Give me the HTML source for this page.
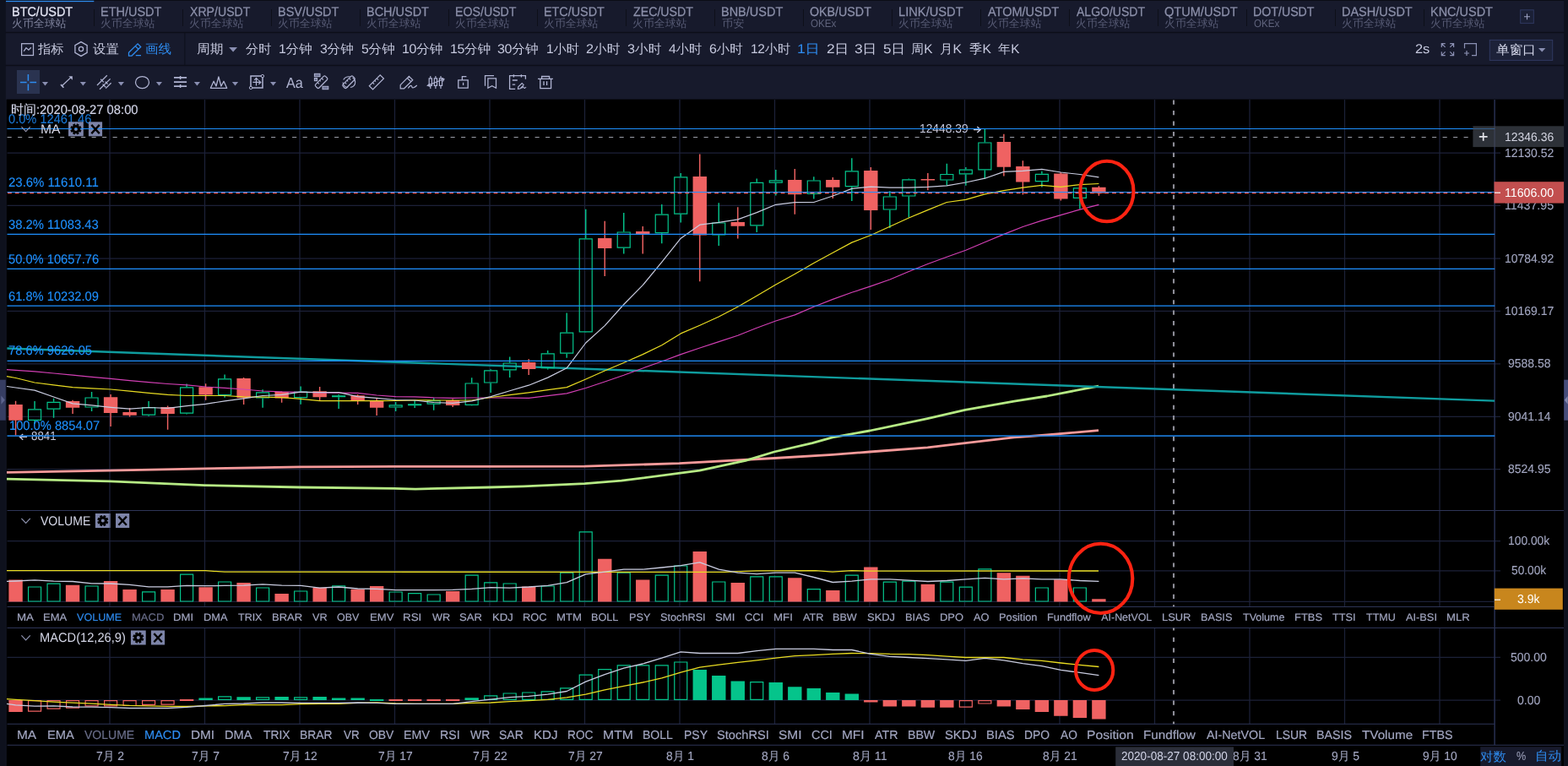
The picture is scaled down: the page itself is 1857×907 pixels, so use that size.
<!DOCTYPE html>
<html lang="zh-CN"><head><meta charset="utf-8"><title>BTC/USDT</title>
<style>
html,body{margin:0;padding:0;background:#171a2c;}
#app{position:relative;width:1857px;height:907px;overflow:hidden;background:#171a2c;font-family:"Liberation Sans","WenQuanYi Zen Hei","Noto Sans CJK SC",sans-serif;}
svg{position:absolute;left:0;top:0;}
.t{position:absolute;white-space:pre;line-height:1;transform-origin:0 0;text-rendering:geometricPrecision;}
</style></head><body>
<div id="app">
<svg width="1857" height="907" viewBox="0 0 1857 907">
<rect x="0" y="0" width="1857" height="907" fill="#171a2c"/>
<rect x="0" y="0" width="1857" height="1" fill="#0b0d16"/>
<rect x="7" y="0.85" width="104.3" height="1.3" fill="#2e8cf0"/>
<rect x="0" y="37.8" width="1857" height="1.4" fill="#0c0e18"/>
<rect x="0" y="76.8" width="1857" height="1.4" fill="#0c0e18"/>
<rect x="111" y="11" width="1" height="20" fill="#0d0f19"/>
<rect x="216" y="11" width="1" height="20" fill="#0d0f19"/>
<rect x="321" y="11" width="1" height="20" fill="#0d0f19"/>
<rect x="426" y="11" width="1" height="20" fill="#0d0f19"/>
<rect x="531" y="11" width="1" height="20" fill="#0d0f19"/>
<rect x="636" y="11" width="1" height="20" fill="#0d0f19"/>
<rect x="741" y="11" width="1" height="20" fill="#0d0f19"/>
<rect x="846" y="11" width="1" height="20" fill="#0d0f19"/>
<rect x="951" y="11" width="1" height="20" fill="#0d0f19"/>
<rect x="1056" y="11" width="1" height="20" fill="#0d0f19"/>
<rect x="1161" y="11" width="1" height="20" fill="#0d0f19"/>
<rect x="1266" y="11" width="1" height="20" fill="#0d0f19"/>
<rect x="1371" y="11" width="1" height="20" fill="#0d0f19"/>
<rect x="1476" y="11" width="1" height="20" fill="#0d0f19"/>
<rect x="1581" y="11" width="1" height="20" fill="#0d0f19"/>
<rect x="1686" y="11" width="1" height="20" fill="#0d0f19"/>
<rect x="218.4" y="39" width="1" height="38" fill="#0d0f19"/>
<rect x="7.6" y="117.6" width="1844.4" height="789.4" fill="#000"/>
<rect x="0" y="0" width="6.8" height="907" fill="#0e111d"/>
<rect x="1852.2" y="0" width="5" height="907" fill="#0e111d"/>
<rect x="0" y="449.7" width="6.8" height="48" fill="#363d62"/>
<path d="M1.4 468.6 L5.8 473.7 L1.4 478.8Z" fill="#5d648e"/>
<rect x="1852.2" y="449.7" width="5" height="48" fill="#454c7a"/>
<path d="M1856.6 469 L1852.8 473.7 L1856.6 478.4Z" fill="#8389b0"/>
<rect x="20" y="83" width="27" height="28" fill="#2a3350"/>
<path d="M130 118V718.4M130 743.5V857.2M242.5 118V718.4M242.5 743.5V857.2M355 118V718.4M355 743.5V857.2M467.5 118V718.4M467.5 743.5V857.2M580 118V718.4M580 743.5V857.2M692.5 118V718.4M692.5 743.5V857.2M805 118V718.4M805 743.5V857.2M917.5 118V718.4M917.5 743.5V857.2M1030 118V718.4M1030 743.5V857.2M1142.5 118V718.4M1142.5 743.5V857.2M1255 118V718.4M1255 743.5V857.2M1367.5 118V718.4M1367.5 743.5V857.2M1480 118V718.4M1480 743.5V857.2M1592.5 118V718.4M1592.5 743.5V857.2M1705 118V718.4M1705 743.5V857.2M8.5 181.1H1777M8.5 243.4H1777M8.5 306H1777M8.5 368.3H1777M8.5 430.8H1777M8.5 493.3H1777M8.5 555.6H1777M8.5 640.7H1777M8.5 675.9H1777M8.5 712.3H1777M8.5 778.4H1777M8.5 829.1H1777" stroke="#1c2138" stroke-width="1.25" fill="none"/>
<path d="M8.5 604.5H1852M8.5 718.5H1770.2 M8.5 743.5H1852M8.5 857.3H1770.2 M8.5 882.3H1852" stroke="#2e3557" stroke-width="1.1" fill="none"/>
<path d="M1770.1 118V882.3" stroke="#283052" stroke-width="1.5" fill="none"/>
<path d="M10.35 686.6H26.75V712.6H10.35ZM77.87 692.8H94.27V712.6H77.87ZM122.88 688.1H139.28V712.6H122.88ZM145.39 698.1H161.79V712.6H145.39ZM190.4 698.1H206.8V712.6H190.4ZM235.41 695.2H251.81V712.6H235.41ZM280.42 690.1H296.82V712.6H280.42ZM325.43 703.1H341.83V712.6H325.43ZM370.45 695.7H386.85V712.6H370.45ZM415.46 697.8H431.86V712.6H415.46ZM437.96 694.1H454.36V712.6H437.96ZM527.99 700H544.39V712.6H527.99ZM618.01 694.4H634.41V712.6H618.01ZM708.04 661.7H724.44V712.6H708.04ZM753.05 686.6H769.45V712.6H753.05ZM820.57 653.1H836.97V712.6H820.57ZM865.58 690.1H881.98V712.6H865.58ZM933.1 684.2H949.5V712.6H933.1ZM978.11 699.1H994.51V712.6H978.11ZM1023.12 671.6H1039.52V712.6H1023.12ZM1090.64 691.7H1107.04V712.6H1090.64ZM1180.66 678.2H1197.06V712.6H1180.66ZM1203.17 681.8H1219.57V712.6H1203.17ZM1248.18 686.2H1264.58V712.6H1248.18ZM1293.19 709.3H1309.59V712.6H1293.19Z" fill="#ef6262"/>
<path d="M33.56 695H48.56V712H33.56ZM56.06 691.1H71.06V712H56.06ZM101.07 694H116.07V712H101.07ZM168.59 700.9H183.59V712H168.59ZM213.6 680.1H228.6V712H213.6ZM258.62 689H273.62V712H258.62ZM303.63 696H318.63V712H303.63ZM348.64 700H363.64V712H348.64ZM393.65 693.8H408.65V712H393.65ZM461.17 701H476.17V712H461.17ZM483.68 702.6H498.68V712H483.68ZM506.18 704H521.18V712H506.18ZM551.19 681.1H566.19V712H551.19ZM573.7 689.8H588.7V712H573.7ZM596.21 691H611.21V712H596.21ZM641.22 694H656.22V712H641.22ZM663.72 678.2H678.72V712H663.72ZM686.23 629.9H701.23V712H686.23ZM731.24 678.2H746.24V712H731.24ZM776.25 681.1H791.25V712H776.25ZM798.76 670H813.76V712H798.76ZM843.77 689H858.77V712H843.77ZM888.78 682.8H903.78V712H888.78ZM911.29 682.8H926.29V712H911.29ZM956.3 697.6H971.3V712H956.3ZM1001.31 681.2H1016.31V712H1001.31ZM1046.33 689.1H1061.33V712H1046.33ZM1068.83 688.1H1083.83V712H1068.83ZM1113.84 689.1H1128.84V712H1113.84ZM1136.35 695.1H1151.35V712H1136.35ZM1158.86 673.9H1173.86V712H1158.86ZM1226.37 696H1241.37V712H1226.37ZM1271.39 696H1286.39V712H1271.39Z" fill="none" stroke="#05c48b" stroke-width="1.2"/>
<polyline points="8,675.7 243.5,675.7 266,677.2 858,677.3 896,675.8 966,675.7 986,677.2 1008.5,675.7 1031,676.2 1301,676" fill="none" stroke="#e9dc22" stroke-width="1.3"/>
<polyline points="8,688.4 18.55,688 41.06,686.8 63.56,688.1 86.07,688.5 108.57,690.8 131.08,691 153.59,692.4 176.09,694.8 198.6,694.8 221.1,693.4 243.61,693.7 266.12,693.4 288.62,693.2 311.13,691.8 333.63,693.2 356.14,693.4 378.65,696.1 401.15,695 423.66,697 446.16,697.4 468.67,698.7 491.18,698.7 513.68,698.7 536.19,698.3 558.69,697.4 581.2,695.7 603.71,696.1 626.21,695 648.72,693.4 671.22,689.7 693.73,679.8 716.24,677.2 738.74,674.2 761.25,674.2 783.75,672 806.26,669.6 828.77,665.9 851.27,674.2 873.78,678.2 896.28,679.6 918.79,678.2 941.3,678.2 963.8,683.5 986.31,689.5 1008.81,688.1 1031.32,685.8 1053.83,685.8 1076.33,687.1 1098.84,688.5 1121.34,687.5 1143.85,685.8 1166.36,684.4 1188.86,685.8 1211.37,684.8 1233.87,685.8 1256.38,685.8 1278.89,687.5 1301.39,688.4" fill="none" stroke="#c9cce0" stroke-width="1.3" stroke-linejoin="round"/>
<path d="M235.41 826.6H251.81V829H235.41ZM280.42 825.2H296.82V829H280.42ZM325.43 825H341.83V829H325.43ZM370.45 825H386.85V829H370.45ZM392.95 826.4H409.35V829H392.95ZM415.46 826.6H431.86V829H415.46ZM437.96 828.1H454.36V830H437.96ZM550.49 826.2H566.89V829H550.49ZM820.57 793.1H836.97V829H820.57ZM843.07 800H859.47V829H843.07ZM865.58 806.4H881.98V829H865.58ZM910.59 808H926.99V829H910.59ZM933.1 813.2H949.5V829H933.1ZM955.6 815.1H972V829H955.6ZM978.11 820H994.51V829H978.11ZM1000.61 821.6H1017.01V829H1000.61Z" fill="#05c48b"/>
<path d="M10.35 829H26.75V843H10.35ZM212.9 828.1H229.3V830H212.9ZM460.47 828.1H476.87V830H460.47ZM482.98 828.1H499.38V830H482.98ZM505.48 828.1H521.88V830H505.48ZM527.99 828.1H544.39V830H527.99ZM1023.12 829H1039.52V831.6H1023.12ZM1045.63 829H1062.03V836.4H1045.63ZM1068.13 829H1084.53V836.4H1068.13ZM1090.64 829H1107.04V837.7H1090.64ZM1113.14 829H1129.54V837.7H1113.14ZM1180.66 829H1197.06V836.4H1180.66ZM1203.17 829H1219.57V839.9H1203.17ZM1225.67 829H1242.07V842.9H1225.67ZM1248.18 829H1264.58V847.7H1248.18ZM1270.69 829H1287.09V850H1270.69ZM1293.19 829H1309.59V851.5H1293.19Z" fill="#ef6262"/>
<path d="M258.62 824.8H273.62V828.4H258.62ZM303.63 825.8H318.63V828.4H303.63ZM348.64 825.8H363.64V828.4H348.64ZM573.7 823.8H588.7V828.4H573.7ZM596.21 821H611.21V828.4H596.21ZM618.71 820H633.71V828.4H618.71ZM641.22 818.8H656.22V828.4H641.22ZM663.72 814.9H678.72V828.4H663.72ZM686.23 799.2H701.23V828.4H686.23ZM708.74 792.7H723.74V828.4H708.74ZM731.24 787.9H746.24V828.4H731.24ZM753.75 787.9H768.75V828.4H753.75ZM776.25 787.9H791.25V828.4H776.25ZM798.76 784H813.76V828.4H798.76ZM888.78 807.7H903.78V828.4H888.78Z" fill="none" stroke="#05c48b" stroke-width="1.2"/>
<path d="M33.56 829.6H48.56V842.1H33.56ZM56.06 829.6H71.06V839.2H56.06ZM78.57 829.6H93.57V838.1H78.57ZM101.07 829.6H116.07V835.9H101.07ZM123.58 829.6H138.58V835.9H123.58ZM146.09 829.6H161.09V835.5H146.09ZM168.59 829.6H183.59V834.4H168.59ZM191.1 829.6H206.1V834.2H191.1ZM1136.35 829.6H1151.35V837.1H1136.35ZM1158.86 829.6H1173.86V833H1158.86Z" fill="none" stroke="#ef6262" stroke-width="1.2"/>
<polyline points="8,827.7 18.55,828.3 41.06,829.7 63.56,831.1 86.07,832.1 108.57,833.2 131.08,834.4 153.59,835.4 176.09,835.8 198.6,836.3 221.1,836.5 243.61,835.9 266.12,835.6 288.62,834.6 311.13,834.6 333.63,834.6 356.14,833.6 378.65,833.3 401.15,833.3 423.66,832.3 446.16,832 468.67,832.9 491.18,833.3 513.68,833.3 536.19,833.3 558.69,832.4 581.2,832 603.71,830.7 626.21,829.7 648.72,828.4 671.22,825.8 693.73,822.2 716.24,816.8 738.74,812.3 761.25,808 783.75,802.8 806.26,796.1 828.77,790.2 851.27,787.1 873.78,784.3 896.28,781.9 918.79,779.2 941.3,776.7 963.8,775.7 986.31,774.4 1008.81,773.5 1031.32,773.7 1053.83,774.4 1076.33,774.6 1098.84,775.7 1121.34,777.2 1143.85,778.5 1166.36,778.5 1188.86,778.5 1211.37,780.8 1233.87,782.4 1256.38,785 1278.89,787.3 1301.39,789.5" fill="none" stroke="#e9dc22" stroke-width="1.3" stroke-linejoin="round"/>
<polyline points="8,833.4 18.55,834.8 41.06,836.1 63.56,835.8 86.07,837 108.57,837.1 131.08,837.7 153.59,838.5 176.09,838.5 198.6,838.5 221.1,837.4 243.61,835.5 266.12,833.3 288.62,833 311.13,832 333.63,832 356.14,832.3 378.65,832.3 401.15,832.3 423.66,832 446.16,832.4 468.67,833.3 491.18,833.3 513.68,833.3 536.19,833.3 558.69,830.7 581.2,828.2 603.71,825.6 626.21,824.3 648.72,822.1 671.22,818.5 693.73,807.1 716.24,798.6 738.74,791.2 761.25,786 783.75,779.2 806.26,771.8 828.77,773.5 851.27,773.5 873.78,773.5 896.28,770.6 918.79,768.3 941.3,768.3 963.8,768.3 986.31,769.5 1008.81,769.5 1031.32,774.4 1053.83,777.4 1076.33,778.5 1098.84,779.6 1121.34,780.8 1143.85,782.4 1166.36,779.3 1188.86,781.9 1211.37,785.6 1233.87,788.6 1256.38,793.4 1278.89,796.4 1301.39,799.6" fill="none" stroke="#c9cce0" stroke-width="1.3" stroke-linejoin="round"/>
<polyline points="8,559.3 130,557.2 242,554.8 355,552.8 467,552.4 580,552.4 692.5,552.1 804.5,548.7 917,542.5 986,538.4 1030,535 1098.5,529.9 1143,524.7 1201,517.9 1240,515 1301,509.7" fill="none" stroke="#f79a9a" stroke-width="2.8" stroke-linejoin="round"/>
<polyline points="8,567.1 130,569.9 242,574.6 355,577 467,578.4 492,579.1 580,577 620,575.9 692.5,572.6 736,569.2 828.5,557.2 883,545.3 917,535 962,524.7 986,517.9 1030,510 1098.5,495.7 1143,485.4 1201,475.2 1240,469 1301,457.1" fill="none" stroke="#b6ea84" stroke-width="2.8" stroke-linejoin="round"/>
<path d="M8.4 412.55L1770 474.6" stroke="#0f9c9e" stroke-width="2.45" fill="none"/>
<path d="M18.55 474.8V515.4M86.07 473.8V490M131.08 466.9V504.9M153.59 483V493.6M198.6 480.6V508.8M243.61 454.2V473.8M288.62 447V479M333.63 463.5V476.8M378.65 458V474M423.66 466.9V479M446.16 471.8V492M536.19 472.4V482M626.21 425.3V444M716.24 261.7V327.1M761.25 267.9V300.6M828.77 182.4V333.2M873.78 245.2V282.5M941.3 200V253.8M986.31 210.1V235.1M1031.32 198V272M1098.84 205.1V225.2M1188.86 158.7V208.6M1211.37 190.2V230.6M1256.38 204V237.6M1301.39 220.3V231.8" fill="none" stroke="#ef6262" stroke-width="1.45"/>
<path d="M10.35 479H26.75V497.7H10.35ZM77.87 475.1H94.27V482.8H77.87ZM122.88 470.2H139.28V488.9H122.88ZM145.39 488H161.79V491.7H145.39ZM190.4 482.1H206.8V490H190.4ZM235.41 458.3H251.81V467.6H235.41ZM280.42 448.1H296.82V471.3H280.42ZM325.43 464.1H341.83V471.5H325.43ZM370.45 463.3H386.85V470.2H370.45ZM415.46 468.2H431.86V474H415.46ZM437.96 474.8H454.36V482.8H437.96ZM527.99 474H544.39V480H527.99ZM618.01 429.1H634.41V436.9H618.01ZM708.04 281.9H724.44V294H708.04ZM753.05 274H769.45V277H753.05ZM820.57 209.1H836.97V278.6H820.57ZM865.58 263.1H881.98V267.8H865.58ZM933.1 213H949.5V230.3H933.1ZM978.11 213H994.51V221.8H978.11ZM1023.12 202H1039.52V248.9H1023.12ZM1090.64 212H1107.04V213.6H1090.64ZM1180.66 168.1H1197.06V197.7H1180.66ZM1203.17 197H1219.57V215.5H1203.17ZM1248.18 205.6H1264.58V235.4H1248.18ZM1293.19 221.8H1309.59V228.8H1293.19Z" fill="#ef6262"/>
<path d="M33.56 484.8H48.56V497.4H33.56ZM56.06 476.3H71.06V484.2H56.06ZM101.07 471H116.07V482H101.07ZM168.59 482.6H183.59V491.1H168.59ZM213.6 458.9H228.6V489.2H213.6ZM258.62 448.9H273.62V467.6H258.62ZM303.63 464.9H318.63V470.9H303.63ZM348.64 464.2H363.64V470.7H348.64ZM393.65 468.8H408.65V469.6H393.65ZM461.17 479.9H476.17V482H461.17ZM483.68 478.8H498.68V479.7H483.68ZM506.18 474.6H521.18V478.1H506.18ZM551.19 454H566.19V479.3H551.19ZM573.7 438.8H588.7V453H573.7ZM596.21 430H611.21V437.9H596.21ZM641.22 418.9H656.22V435.7H641.22ZM663.72 394.1H678.72V418.1H663.72ZM686.23 282.8H701.23V392.9H686.23ZM731.24 275H746.24V293.2H731.24ZM776.25 254.1H791.25V275.6H776.25ZM798.76 209.9H813.76V253.1H798.76ZM843.77 264H858.77V277.9H843.77ZM888.78 216.4H903.78V266.9H888.78ZM911.29 213.8H926.29V216.2H911.29ZM956.3 214H971.3V229.4H956.3ZM1001.31 202.9H1016.31V220.7H1001.31ZM1046.33 233H1061.33V248H1046.33ZM1068.83 212.9H1083.83V232H1068.83ZM1113.84 206.5H1128.84V213H1113.84ZM1136.35 201.2H1151.35V205.9H1136.35ZM1158.86 169H1173.86V200.8H1158.86ZM1226.37 206.4H1241.37V214.6H1226.37ZM1271.39 222.8H1286.39V234.4H1271.39Z" fill="none" stroke="#05c48b" stroke-width="1.2"/>
<path d="M41.06 475.1V484.2M41.06 498V502M63.56 471.8V475.7M63.56 484.8V494.8M108.57 463.9V470.4M108.57 482.6V486.9M176.09 475.1V482M176.09 491.7V492.8M221.1 454.4V458.3M221.1 489.8V490.5M266.12 443.5V448.3M266.12 468.2V470.7M311.13 461.3V464.3M311.13 471.5V482.8M356.14 457.5V463.6M356.14 471.3V478.8M401.15 466.9V468.2M401.15 470.2V484M468.67 476V479.3M468.67 482.6V486.9M491.18 474V478.2M491.18 480.3V483M513.68 471.3V474M513.68 478.7V485.8M558.69 447.2V453.4M558.69 479.9V480.2M581.2 437.2V438.2M581.2 453.6V465M603.71 422.5V429.4M603.71 438.5V447M648.72 415.1V418.3M648.72 436.3V437.4M671.22 370.4V393.5M671.22 418.7V423.8M693.73 247.7V282.2M693.73 393.5V393.8M738.74 252.1V274.4M738.74 293.8V300.6M783.75 242V253.5M783.75 276.2V288.2M806.26 205V209.3M806.26 253.7V263.4M851.27 240.2V263.4M851.27 278.5V291M896.28 211.5V215.8M896.28 267.5V275M918.79 201.1V213.2M918.79 216.8V231.4M963.8 209.2V213.4M963.8 230V235.5M1008.81 187.2V202.3M1008.81 221.3V238M1053.83 226.3V232.4M1053.83 248.6V269.9M1076.33 211.4V212.3M1076.33 232.6V257.5M1121.34 193.8V205.9M1121.34 213.6V219.4M1143.85 198V200.6M1143.85 206.5V219.7M1166.36 152.7V168.4M1166.36 201.4V212.1M1233.87 202.8V205.8M1233.87 215.2V221.6M1278.89 221.5V222.2M1278.89 235V247.6" fill="none" stroke="#05c48b" stroke-width="1.45"/>
<polyline points="8,437.6 18.55,438.3 41.06,439.8 63.56,442 86.07,444.2 108.57,446.3 131.08,448.4 153.59,450.6 176.09,452.7 198.6,454.5 221.1,455.8 243.61,458 266.12,459.4 288.62,461 311.13,463 333.63,463.9 356.14,464.3 378.65,464.9 401.15,465.2 423.66,465.4 446.16,468 468.67,469.6 491.18,469.8 513.68,470.9 536.19,471.3 558.69,471 581.2,471 603.71,471.2 626.21,471.3 648.72,468.6 671.22,465.9 693.73,459.5 716.24,452 738.74,444.3 761.25,436 783.75,428 806.26,419.6 828.77,412 851.27,404.6 873.78,397.2 896.28,388.2 918.79,380 941.3,372.9 963.8,363.2 986.31,354.4 1008.81,346.3 1031.32,338.9 1053.83,331 1076.33,321.5 1098.84,312.5 1121.34,304.2 1143.85,296.2 1166.36,286.7 1188.86,277.4 1211.37,268.5 1233.87,261.1 1256.38,254.6 1278.89,248.2 1301.39,242.3" fill="none" stroke="#d23fb4" stroke-width="1.2" stroke-linejoin="round"/>
<polyline points="8,445.6 18.55,447.5 41.06,453 63.56,455.8 86.07,458.6 108.57,459.8 131.08,461 153.59,463.2 176.09,465.4 198.6,467.4 221.1,468.5 243.61,468.5 266.12,468.5 288.62,469.8 311.13,470.2 333.63,470.7 356.14,472.4 378.65,474.6 401.15,474.6 423.66,474.6 446.16,474.6 468.67,474.4 491.18,473.8 513.68,474 536.19,474 558.69,474 581.2,470.5 603.71,467.6 626.21,464.8 648.72,461.7 671.22,458.6 693.73,449 716.24,439 738.74,429.5 761.25,419.6 783.75,408.7 806.26,394.9 828.77,385.2 851.27,375 873.78,363.2 896.28,350.3 918.79,337.1 941.3,324.4 963.8,311.5 986.31,299.3 1008.81,287.1 1031.32,278.5 1053.83,268.2 1076.33,258 1098.84,248.6 1121.34,239.5 1143.85,236.4 1166.36,229.8 1188.86,225.6 1211.37,222.1 1233.87,219.4 1256.38,221.3 1278.89,218.6 1301.39,217.5" fill="none" stroke="#e9dc22" stroke-width="1.2" stroke-linejoin="round"/>
<polyline points="8,457.5 18.55,459 41.06,462.1 63.56,470 86.07,477.9 108.57,479.9 131.08,482.3 153.59,484.2 176.09,482.5 198.6,483.4 221.1,480.6 243.61,478.4 266.12,474.8 288.62,471.8 311.13,468.5 333.63,467.4 356.14,464.1 378.65,464.7 401.15,464.7 423.66,469.6 446.16,471.3 468.67,473.5 491.18,474 513.68,476.5 536.19,477.3 558.69,474.9 581.2,469.6 603.71,462.8 626.21,456.2 648.72,447.1 671.22,435.8 693.73,406 716.24,385.6 738.74,360.5 761.25,337.6 783.75,310.3 806.26,282.2 828.77,266.2 851.27,263.4 873.78,259.9 896.28,251.6 918.79,242.3 941.3,239.6 963.8,239.5 986.31,232 1008.81,223.4 1031.32,221.1 1053.83,222.2 1076.33,222.2 1098.84,221.3 1121.34,219.9 1143.85,216 1166.36,211.2 1188.86,203.4 1211.37,202.3 1233.87,200.4 1256.38,204 1278.89,206.5 1301.39,209.8" fill="none" stroke="#c9cce0" stroke-width="1.2" stroke-linejoin="round"/>
<path d="M1153.0 153.5H1161M1157.3 150.1L1161.1 153.5L1157.3 156.9" stroke="#c6c9de" stroke-width="1.4" fill="none"/>
<path d="M32.1 517.3H23.6M27.2 513.9L23.4 517.3L27.2 520.7" stroke="#c6c9de" stroke-width="1.4" fill="none"/>
</svg>
<div class="lay"><span class="t" style="left:10.33px;top:133.78px;font-size:15.4px;color:#1a78d6;transform:scaleX(0.950);-webkit-text-stroke:0.1px #1a78d6;">0.0% 12461.46</span>
<span class="t" style="left:10.24px;top:209.03px;font-size:15.4px;color:#1e90ff;transform:scaleX(0.972);-webkit-text-stroke:0.12px #1e90ff;">23.6% 11610.11</span>
<span class="t" style="left:10.25px;top:258.83px;font-size:15.4px;color:#1e90ff;transform:scaleX(0.962);-webkit-text-stroke:0.12px #1e90ff;">38.2% 11083.43</span>
<span class="t" style="left:10.1px;top:299.93px;font-size:15.4px;color:#1e90ff;transform:scaleX(0.955);-webkit-text-stroke:0.12px #1e90ff;">50.0% 10657.76</span>
<span class="t" style="left:10.19px;top:343.83px;font-size:15.4px;color:#1e90ff;transform:scaleX(0.954);-webkit-text-stroke:0.12px #1e90ff;">61.8% 10232.09</span>
<span class="t" style="left:10.1px;top:408.18px;font-size:15.4px;color:#1e90ff;transform:scaleX(0.956);-webkit-text-stroke:0.12px #1e90ff;">78.6% 9626.05</span>
<span class="t" style="left:10.63px;top:497.13px;font-size:15.4px;color:#1e90ff;transform:scaleX(0.955);-webkit-text-stroke:0.12px #1e90ff;">100.0% 8854.07</span>
<span class="t" style="left:37.28px;top:509.7px;font-size:14.4px;color:#c6c9de;transform:scaleX(0.924);">8841</span>
<span class="t" style="left:1089.24px;top:146.1px;font-size:14.4px;color:#c6c9de;transform:scaleX(0.959);">12448.39</span>
<span class="t" style="left:1781.73px;top:174.6px;font-size:14.4px;color:#a2a6c0;transform:scaleX(0.969);-webkit-text-stroke:0.12px #a2a6c0;">12130.52</span>
<span class="t" style="left:1781.72px;top:236.9px;font-size:14.4px;color:#a2a6c0;transform:scaleX(0.985);-webkit-text-stroke:0.12px #a2a6c0;">11437.95</span>
<span class="t" style="left:1781.73px;top:299.5px;font-size:14.4px;color:#a2a6c0;transform:scaleX(0.969);-webkit-text-stroke:0.12px #a2a6c0;">10784.92</span>
<span class="t" style="left:1781.73px;top:361.8px;font-size:14.4px;color:#a2a6c0;transform:scaleX(0.969);-webkit-text-stroke:0.12px #a2a6c0;">10169.17</span>
<span class="t" style="left:1785.71px;top:424.3px;font-size:14.4px;color:#a2a6c0;transform:scaleX(0.972);-webkit-text-stroke:0.12px #a2a6c0;">9588.58</span>
<span class="t" style="left:1785.71px;top:486.8px;font-size:14.4px;color:#a2a6c0;transform:scaleX(0.969);-webkit-text-stroke:0.12px #a2a6c0;">9041.14</span>
<span class="t" style="left:1785.75px;top:549.1px;font-size:14.4px;color:#a2a6c0;transform:scaleX(0.971);-webkit-text-stroke:0.12px #a2a6c0;">8524.95</span>
<span class="t" style="left:1786.04px;top:634.4px;font-size:14.4px;color:#a2a6c0;transform:scaleX(0.961);-webkit-text-stroke:0.12px #a2a6c0;">100.00k</span>
<span class="t" style="left:1790.06px;top:669.4px;font-size:14.4px;color:#a2a6c0;transform:scaleX(0.953);-webkit-text-stroke:0.12px #a2a6c0;">50.00k</span>
<span class="t" style="left:1789.14px;top:772px;font-size:14.4px;color:#a2a6c0;transform:scaleX(0.973);-webkit-text-stroke:0.12px #a2a6c0;">500.00</span>
<span class="t" style="left:1796.93px;top:822.6px;font-size:14.4px;color:#a2a6c0;transform:scaleX(0.976);-webkit-text-stroke:0.12px #a2a6c0;">0.00</span>
<span class="t" style="left:114px;top:889.4px;font-size:14.4px;color:#a2a6c0;transform:scaleX(0.968);-webkit-text-stroke:0.12px #a2a6c0;"><span style="font-size:14.4px;letter-spacing:0px">7</span><span style="font-size:14.2px;letter-spacing:0px;vertical-align:0px">月</span><span style="font-size:14.4px;letter-spacing:0px"> 2</span></span>
<span class="t" style="left:226.5px;top:889.4px;font-size:14.4px;color:#a2a6c0;transform:scaleX(0.968);-webkit-text-stroke:0.12px #a2a6c0;"><span style="font-size:14.4px;letter-spacing:0px">7</span><span style="font-size:14.2px;letter-spacing:0px;vertical-align:0px">月</span><span style="font-size:14.4px;letter-spacing:0px"> 7</span></span>
<span class="t" style="left:335.2px;top:889.4px;font-size:14.4px;color:#a2a6c0;transform:scaleX(0.965);-webkit-text-stroke:0.12px #a2a6c0;"><span style="font-size:14.4px;letter-spacing:0px">7</span><span style="font-size:14.2px;letter-spacing:0px;vertical-align:0px">月</span><span style="font-size:14.4px;letter-spacing:0px"> 12</span></span>
<span class="t" style="left:447.7px;top:889.4px;font-size:14.4px;color:#a2a6c0;transform:scaleX(0.965);-webkit-text-stroke:0.12px #a2a6c0;"><span style="font-size:14.4px;letter-spacing:0px">7</span><span style="font-size:14.2px;letter-spacing:0px;vertical-align:0px">月</span><span style="font-size:14.4px;letter-spacing:0px"> 17</span></span>
<span class="t" style="left:560.2px;top:889.4px;font-size:14.4px;color:#a2a6c0;transform:scaleX(0.965);-webkit-text-stroke:0.12px #a2a6c0;"><span style="font-size:14.4px;letter-spacing:0px">7</span><span style="font-size:14.2px;letter-spacing:0px;vertical-align:0px">月</span><span style="font-size:14.4px;letter-spacing:0px"> 22</span></span>
<span class="t" style="left:672.7px;top:889.4px;font-size:14.4px;color:#a2a6c0;transform:scaleX(0.965);-webkit-text-stroke:0.12px #a2a6c0;"><span style="font-size:14.4px;letter-spacing:0px">7</span><span style="font-size:14.2px;letter-spacing:0px;vertical-align:0px">月</span><span style="font-size:14.4px;letter-spacing:0px"> 27</span></span>
<span class="t" style="left:789.05px;top:889.4px;font-size:14.4px;color:#a2a6c0;transform:scaleX(0.966);-webkit-text-stroke:0.12px #a2a6c0;"><span style="font-size:14.4px;letter-spacing:0px">8</span><span style="font-size:14.2px;letter-spacing:0px;vertical-align:0px">月</span><span style="font-size:14.4px;letter-spacing:0px"> 1</span></span>
<span class="t" style="left:901.55px;top:889.4px;font-size:14.4px;color:#a2a6c0;transform:scaleX(0.965);-webkit-text-stroke:0.12px #a2a6c0;"><span style="font-size:14.4px;letter-spacing:0px">8</span><span style="font-size:14.2px;letter-spacing:0px;vertical-align:0px">月</span><span style="font-size:14.4px;letter-spacing:0px"> 6</span></span>
<span class="t" style="left:1010.24px;top:889.4px;font-size:14.4px;color:#a2a6c0;transform:scaleX(0.987);-webkit-text-stroke:0.12px #a2a6c0;"><span style="font-size:14.4px;letter-spacing:0px">8</span><span style="font-size:14.2px;letter-spacing:0px;vertical-align:0px">月</span><span style="font-size:14.4px;letter-spacing:0px"> 11</span></span>
<span class="t" style="left:1122.75px;top:889.4px;font-size:14.4px;color:#a2a6c0;transform:scaleX(0.962);-webkit-text-stroke:0.12px #a2a6c0;"><span style="font-size:14.4px;letter-spacing:0px">8</span><span style="font-size:14.2px;letter-spacing:0px;vertical-align:0px">月</span><span style="font-size:14.4px;letter-spacing:0px"> 16</span></span>
<span class="t" style="left:1235.25px;top:889.4px;font-size:14.4px;color:#a2a6c0;transform:scaleX(0.963);-webkit-text-stroke:0.12px #a2a6c0;"><span style="font-size:14.4px;letter-spacing:0px">8</span><span style="font-size:14.2px;letter-spacing:0px;vertical-align:0px">月</span><span style="font-size:14.4px;letter-spacing:0px"> 21</span></span>
<span class="t" style="left:1347.75px;top:889.4px;font-size:14.4px;color:#a2a6c0;transform:scaleX(0.962);-webkit-text-stroke:0.12px #a2a6c0;"><span style="font-size:14.4px;letter-spacing:0px">8</span><span style="font-size:14.2px;letter-spacing:0px;vertical-align:0px">月</span><span style="font-size:14.4px;letter-spacing:0px"> 26</span></span>
<span class="t" style="left:1460.25px;top:889.4px;font-size:14.4px;color:#a2a6c0;transform:scaleX(0.963);-webkit-text-stroke:0.12px #a2a6c0;"><span style="font-size:14.4px;letter-spacing:0px">8</span><span style="font-size:14.2px;letter-spacing:0px;vertical-align:0px">月</span><span style="font-size:14.4px;letter-spacing:0px"> 31</span></span>
<span class="t" style="left:1576.51px;top:889.4px;font-size:14.4px;color:#a2a6c0;transform:scaleX(0.966);-webkit-text-stroke:0.12px #a2a6c0;"><span style="font-size:14.4px;letter-spacing:0px">9</span><span style="font-size:14.2px;letter-spacing:0px;vertical-align:0px">月</span><span style="font-size:14.4px;letter-spacing:0px"> 5</span></span>
<span class="t" style="left:1685.22px;top:889.4px;font-size:14.4px;color:#a2a6c0;transform:scaleX(0.962);-webkit-text-stroke:0.12px #a2a6c0;"><span style="font-size:14.4px;letter-spacing:0px">9</span><span style="font-size:14.2px;letter-spacing:0px;vertical-align:0px">月</span><span style="font-size:14.4px;letter-spacing:0px"> 10</span></span></div>
<svg width="1857" height="907" viewBox="0 0 1857 907">
<rect x="81" y="144.3" width="17.8" height="17.0" fill="#7d84a8"/><rect x="104.9" y="144.3" width="16.2" height="17.0" fill="#7d84a8"/><rect x="112.9" y="608" width="17.8" height="17.0" fill="#7d84a8"/><rect x="137" y="608" width="16.2" height="17.0" fill="#7d84a8"/><rect x="154.9" y="746.5" width="17.8" height="17.0" fill="#7d84a8"/><rect x="178.9" y="746.5" width="16.2" height="17.0" fill="#7d84a8"/>
<path d="M130 608V625" stroke="#50587c" stroke-width="1.25" fill="none"/>
<path d="M8.5 228.5H1770.2" stroke="#ee6060" stroke-width="1.4" stroke-dasharray="4.85 3.87" stroke-dashoffset="8.16" fill="none"/>
<path d="M8.5 152.45H1770.2M8.5 227.5H1770.2M8.5 277.4H1770.2M8.5 318.3H1770.2M8.5 362.1H1770.2M8.5 427.4H1770.2" stroke="#1e90ff" stroke-width="1.15" fill="none"/>
<path d="M8.5 516.05H1770.2" stroke="#1e88f2" stroke-width="1.8" stroke-opacity="0.85" fill="none"/>
<path d="M8.6 162.55H1745" stroke="#9b9ea8" stroke-width="1.05" stroke-dasharray="5.1 7.4" fill="none"/>
<path d="M1390 118.6V718.3" stroke="#8e8e98" stroke-width="2.1" stroke-dasharray="5.2 7.25" fill="none"/>
<path d="M1390 743.6V857.2" stroke="#8e8e98" stroke-width="2.1" stroke-dasharray="3.0 8.2 5.2 7.25 5.2 7.25 5.2 7.25 5.2 7.25 5.2 7.25 5.2 7.25 5.2 7.25 5.2 7.25 5.2 7.25" fill="none"/>
<rect x="1744.4" y="149.3" width="107.7" height="24.8" fill="#434852" fill-opacity="0.68"/>
<path d="M1751.8 161.9H1761.6M1756.7 157V166.8" stroke="#e4e5ea" stroke-width="1.7" fill="none"/>
<rect x="1769.5" y="215.2" width="82.6" height="25.4" fill="#c24f4f"/>
<path d="M1770 228.2H1777" stroke="#fff" stroke-width="1.2"/>
<rect x="1769.8" y="696.6" width="81" height="25.2" fill="#c8861d"/>
<path d="M1770 710.2H1777" stroke="#fff" stroke-width="1.2"/>
<rect x="1321.2" y="884.4" width="139.8" height="22.6" fill="#30333f" fill-opacity="0.9"/>
<rect x="1753.2" y="884.2" width="96" height="22.8" fill="#171a2c"/>
<path d="M25.4 150.2L30.6 155.7L35.8 150.2" stroke="#8d92ae" stroke-width="1.2" fill="none"/>
<circle cx="89.9" cy="152.9" r="3.5" fill="none" stroke="#000" stroke-width="3.0"/><path d="M93.87 154.55L95.95 155.41M91.55 156.87L92.41 158.95M88.25 156.87L87.39 158.95M85.93 154.55L83.85 155.41M85.93 151.25L83.85 150.39M88.25 148.93L87.39 146.85M91.55 148.93L92.41 146.85M93.87 151.25L95.95 150.39" stroke="#000" stroke-width="2.9" fill="none"/>
<path d="M108.3 147.9L117.8 158.1M117.8 147.9L108.3 158.1" stroke="#000" stroke-width="2.3" fill="none"/>
<path d="M25.4 613.9L30.6 619.4L35.8 613.9" stroke="#8d92ae" stroke-width="1.2" fill="none"/>
<circle cx="121.8" cy="616.6" r="3.5" fill="none" stroke="#000" stroke-width="3.0"/><path d="M125.77 618.25L127.85 619.11M123.45 620.57L124.31 622.65M120.15 620.57L119.29 622.65M117.83 618.25L115.75 619.11M117.83 614.95L115.75 614.09M120.15 612.63L119.29 610.55M123.45 612.63L124.31 610.55M125.77 614.95L127.85 614.09" stroke="#000" stroke-width="2.9" fill="none"/>
<path d="M140.4 611.6L149.9 621.8M149.9 611.6L140.4 621.8" stroke="#000" stroke-width="2.3" fill="none"/>
<path d="M25.4 752.4L30.6 757.9L35.8 752.4" stroke="#8d92ae" stroke-width="1.2" fill="none"/>
<circle cx="163.8" cy="755.1" r="3.5" fill="none" stroke="#000" stroke-width="3.0"/><path d="M167.77 756.75L169.85 757.61M165.45 759.07L166.31 761.15M162.15 759.07L161.29 761.15M159.83 756.75L157.75 757.61M159.83 753.45L157.75 752.59M162.15 751.13L161.29 749.05M165.45 751.13L166.31 749.05M167.77 753.45L169.85 752.59" stroke="#000" stroke-width="2.9" fill="none"/>
<path d="M182.3 750.1L191.8 760.3M191.8 750.1L182.3 760.3" stroke="#000" stroke-width="2.3" fill="none"/>
<rect x="25.6" y="51.7" width="13.9" height="13.8" fill="none" stroke="#b0b4d2" stroke-width="1.25"/>
<path d="M28.2 60.7L31 56.6L33.9 59.2L36.8 56.3" fill="none" stroke="#b0b4d2" stroke-width="1.25"/>
<path d="M96 49.6L103.1 53.7V62.3L96 66.4L88.9 62.3V53.7Z" fill="none" stroke="#b0b4d2" stroke-width="1.3"/>
<circle cx="96" cy="58" r="2.6" fill="none" stroke="#b0b4d2" stroke-width="1.3"/>
<path d="M152.5 62.3L163.1 51.9L166.7 55.5L156 66H152.5ZM160.4 54.6L164 58.2M160.8 65.6H167" fill="none" stroke="#2e8cf0" stroke-width="1.25"/>
<path d="M271.2 56.1H281L276.1 61.5Z" fill="#8a8fb2"/>
<path d="M1707.3 56V51.6H1711.7M1707.3 51.6L1711.6 55.9M1717.2 51.6H1721.6V56M1721.6 51.6L1717.3 55.9M1707.3 61.2V65.6H1711.7M1707.3 65.6L1711.6 61.3M1717.2 65.6H1721.6V61.2M1721.6 65.6L1717.3 61.3" fill="none" stroke="#8c91b4" stroke-width="1.2"/>
<path d="M1734.5 57.2V51.6H1748.4V65.6H1743M1734 63H1740M1737 60V66" fill="none" stroke="#8c91b4" stroke-width="1.2"/>
<rect x="1764.3" y="47.4" width="74.4" height="24" fill="#1d2239" stroke="#303961" stroke-width="1"/>
<path d="M1822 57H1830.4L1826.2 61.6Z" fill="#8a8fb2"/>
<rect x="1800.7" y="11.8" width="15.6" height="15.8" fill="#1b2036" stroke="#303961" stroke-width="1"/>
<path d="M1805 19.7H1812M1808.5 16.2V23.2" stroke="#9ea3c4" stroke-width="1.1" fill="none"/>
<path d="M33.4 88V95.8M33.4 99.6V107.2M24 97.5H31.6M35.4 97.5H43.1" stroke="#2e8cf0" stroke-width="1.5" fill="none"/>
<path d="M49.9 96.9H57L53.45 101.5Z" fill="#8a8fb2"/>
<path d="M94.8 96.9H101.9L98.35 101.5Z" fill="#8a8fb2"/>
<path d="M139.8 96.9H147L143.4 101.5Z" fill="#8a8fb2"/>
<path d="M184.9 96.9H192L188.45 101.5Z" fill="#8a8fb2"/>
<path d="M229.8 96.9H237L233.4 101.5Z" fill="#8a8fb2"/>
<path d="M274.9 96.9H282.1L278.5 101.5Z" fill="#8a8fb2"/>
<path d="M320 96.9H327.1L323.55 101.5Z" fill="#8a8fb2"/>
<path d="M73 102L84 91.6" stroke="#b0b4d2" stroke-width="1.3" fill="none"/>
<path d="M81.3 90.2H85.8V94.7Z" fill="#b0b4d2"/>
<path d="M72 100.1L75.4 103.8" stroke="#b0b4d2" stroke-width="1.6" fill="none"/>
<path d="M115 101L126.8 89.3M118 105.8L130.6 93.4M125.2 104.6L131.6 98.2M119.2 93.8L122.8 97.4M121.6 99.6L125.2 103.2M124.6 96.6L127.6 99.6" stroke="#b0b4d2" stroke-width="1.25" fill="none"/>
<ellipse cx="168.5" cy="97.5" rx="8" ry="7" fill="none" stroke="#b0b4d2" stroke-width="1.25"/>
<path d="M206 91.9H221.1M206 97.1H221.1M206 102.1H221.1" stroke="#b0b4d2" stroke-width="1.7" fill="none"/>
<path d="M213.6 89.9V93.9M213.6 100.1V104.1" stroke="#b0b4d2" stroke-width="1.5" fill="none"/>
<path d="M249.4 104.3L253.1 96.2L256 102L258.9 90.8L261.9 102L265 96.2L268.7 104.3Z" stroke="#b0b4d2" stroke-width="1.3" fill="none" stroke-linejoin="round"/>
<rect x="297" y="90" width="14" height="14" fill="none" stroke="#b0b4d2" stroke-width="1.5"/>
<circle cx="310.9" cy="90.1" r="1.7" fill="#171a2c" stroke="#b0b4d2" stroke-width="1"/>
<circle cx="297.1" cy="103.9" r="1.7" fill="#171a2c" stroke="#b0b4d2" stroke-width="1"/>
<path d="M303.5 101.6V92.6M301.2 94.8L303.5 92.4L305.8 94.8M299.4 97.4H308.6M306.4 95.1L308.8 97.4L306.4 99.7" stroke="#b0b4d2" stroke-width="1.2" fill="none"/>
<g transform="translate(380.6 97.2) rotate(-45)"><rect x="-8.25" y="-2.9" width="16.5" height="5.8" rx="1.6" fill="none" stroke="#b0b4d2" stroke-width="1.2"/><path d="M-3.5 -2.9V-0.3M0 -2.9V-1.1M3.5 -2.9V-0.3" stroke="#b0b4d2" stroke-width="1.1" fill="none"/></g>
<rect x="372.4" y="87.3" width="6.6" height="3.4" fill="#6e7394" stroke="#b0b4d2" stroke-width="1"/>
<rect x="372.4" y="92.5" width="3.2" height="3.2" fill="#6e7394" stroke="#b0b4d2" stroke-width="1"/>
<rect x="382" y="102.3" width="6.8" height="3.4" fill="#6e7394" stroke="#b0b4d2" stroke-width="1"/>
<ellipse cx="413.4" cy="97.2" rx="7.3" ry="6.4" fill="none" stroke="#b0b4d2" stroke-width="1.1" stroke-dasharray="9 3"/>
<g transform="translate(413 97.2) rotate(-45)"><rect x="-8.25" y="-2.9" width="16.5" height="5.8" rx="1.6" fill="none" stroke="#b0b4d2" stroke-width="1.2"/><path d="M-3.5 -2.9V-0.3M0 -2.9V-1.1M3.5 -2.9V-0.3" stroke="#b0b4d2" stroke-width="1.1" fill="none"/></g>
<g transform="translate(445.9 97.4) rotate(-45)"><rect x="-9.1" y="-3" width="18.2" height="6" rx="0" fill="none" stroke="#b0b4d2" stroke-width="1.2"/><path d="M-3.5 -3V-0.4M0 -3V-1.2M3.5 -3V-0.4" stroke="#b0b4d2" stroke-width="1.1" fill="none"/></g>
<path d="M474.2 100.7L484.4 90.4L488.8 94.8L478.6 104.8H474.2ZM482.5 92.5L486.8 96.8M483.4 104.6C484.8 101.2 487.4 100.6 487.8 102.6C488.2 104.8 490.6 104 493.8 101" fill="none" stroke="#b0b4d2" stroke-width="1.2"/>
<path d="M509.8 90V92.9M509.8 101.3V104.9M508.2 92.9H511.4V101.3H508.2ZM515.9 90V92.9M515.9 101.3V104.9M514.3 92.9H517.5V101.3H514.3ZM522 90V92.9M522 101.3V104.9M520.4 92.9H523.6V101.3H520.4Z" fill="none" stroke="#b0b4d2" stroke-width="1.2"/>
<path d="M506.4 101.2L525.8 93.6M523 92.3L526 93.6L524.6 96.4M509.2 99L506.2 101.3L509.6 102.6" fill="none" stroke="#b0b4d2" stroke-width="1.1"/>
<path d="M542.8 94.8H554.2V104.2H542.8ZM547.4 94.6V90.6H552.4M548.6 97.8V101" fill="none" stroke="#b0b4d2" stroke-width="1.3"/>
<path d="M574.5 101.8V89.6H585M577.9 92.9H587.5V104.3L582.7 101.6L577.9 104.3Z" fill="none" stroke="#b0b4d2" stroke-width="1.25"/>
<path d="M610.2 105.4H603.6V89.7H622.4V93.8M608.4 88.2V91.4M617.4 88.2V91.4M606.8 95H612.8M606.8 100.2H610.2" fill="none" stroke="#b0b4d2" stroke-width="1.3"/>
<path d="M613.4 105.4L613.8 102.8L618.2 98.6L620.2 100.6L616 104.9ZM617.6 104.6C619 102.4 620 102.6 620.4 103.8C620.8 105 621.8 104.4 623 103" fill="none" stroke="#b0b4d2" stroke-width="1.1"/>
<path d="M637 93.3H654.9M641.6 93.3V90.5H650.6V93.3M639.8 93.3V104.7H652.6V93.3M644 96.2V101M647.6 96.2V101" fill="none" stroke="#b0b4d2" stroke-width="1.3"/>
</svg>
<div class="lay"><span class="t" style="left:14.16px;top:6.78px;font-size:15.4px;color:#e4e6f4;transform:scaleX(0.938);-webkit-text-stroke:0.25px #e4e6f4;">BTC/USDT</span>
<span class="t" style="left:14.17px;top:22.06px;font-size:12.8px;color:#80849e;transform:scaleX(1.009);">火币全球站</span>
<span class="t" style="left:119.15px;top:6.78px;font-size:15.4px;color:#8c90aa;transform:scaleX(0.941);-webkit-text-stroke:0.25px #8c90aa;">ETH/USDT</span>
<span class="t" style="left:119.17px;top:22.06px;font-size:12.8px;color:#585c76;transform:scaleX(1.009);">火币全球站</span>
<span class="t" style="left:224.83px;top:6.78px;font-size:15.4px;color:#8c90aa;transform:scaleX(0.917);-webkit-text-stroke:0.25px #8c90aa;">XRP/USDT</span>
<span class="t" style="left:224.17px;top:22.06px;font-size:12.8px;color:#585c76;transform:scaleX(1.009);">火币全球站</span>
<span class="t" style="left:328.85px;top:6.78px;font-size:15.4px;color:#8c90aa;transform:scaleX(0.941);-webkit-text-stroke:0.25px #8c90aa;">BSV/USDT</span>
<span class="t" style="left:329.17px;top:22.06px;font-size:12.8px;color:#585c76;transform:scaleX(1.009);">火币全球站</span>
<span class="t" style="left:433.96px;top:6.78px;font-size:15.4px;color:#8c90aa;transform:scaleX(0.940);-webkit-text-stroke:0.25px #8c90aa;">BCH/USDT</span>
<span class="t" style="left:434.17px;top:22.06px;font-size:12.8px;color:#585c76;transform:scaleX(1.009);">火币全球站</span>
<span class="t" style="left:538.88px;top:6.78px;font-size:15.4px;color:#8c90aa;transform:scaleX(0.922);-webkit-text-stroke:0.25px #8c90aa;">EOS/USDT</span>
<span class="t" style="left:539.17px;top:22.06px;font-size:12.8px;color:#585c76;transform:scaleX(1.009);">火币全球站</span>
<span class="t" style="left:643.96px;top:6.78px;font-size:15.4px;color:#8c90aa;transform:scaleX(0.933);-webkit-text-stroke:0.25px #8c90aa;">ETC/USDT</span>
<span class="t" style="left:644.17px;top:22.06px;font-size:12.8px;color:#585c76;transform:scaleX(1.009);">火币全球站</span>
<span class="t" style="left:749.89px;top:6.78px;font-size:15.4px;color:#8c90aa;transform:scaleX(0.922);-webkit-text-stroke:0.25px #8c90aa;">ZEC/USDT</span>
<span class="t" style="left:749.17px;top:22.06px;font-size:12.8px;color:#585c76;transform:scaleX(1.009);">火币全球站</span>
<span class="t" style="left:854.35px;top:6.78px;font-size:15.4px;color:#8c90aa;transform:scaleX(0.941);-webkit-text-stroke:0.25px #8c90aa;">BNB/USDT</span>
<span class="t" style="left:854.76px;top:22.06px;font-size:12.8px;color:#585c76;transform:scaleX(1.039);">币安</span>
<span class="t" style="left:959.27px;top:6.78px;font-size:15.4px;color:#8c90aa;transform:scaleX(0.926);-webkit-text-stroke:0.25px #8c90aa;">OKB/USDT</span>
<span class="t" style="left:959.72px;top:22.35px;font-size:12.8px;color:#5f637c;transform:scaleX(0.911);">OKEx</span>
<span class="t" style="left:1063.94px;top:6.78px;font-size:15.4px;color:#8c90aa;transform:scaleX(0.954);-webkit-text-stroke:0.25px #8c90aa;">LINK/USDT</span>
<span class="t" style="left:1064.17px;top:22.06px;font-size:12.8px;color:#585c76;transform:scaleX(1.009);">火币全球站</span>
<span class="t" style="left:1169.82px;top:6.78px;font-size:15.4px;color:#8c90aa;transform:scaleX(0.943);-webkit-text-stroke:0.25px #8c90aa;">ATOM/USDT</span>
<span class="t" style="left:1169.17px;top:22.06px;font-size:12.8px;color:#585c76;transform:scaleX(1.009);">火币全球站</span>
<span class="t" style="left:1274.82px;top:6.78px;font-size:15.4px;color:#8c90aa;transform:scaleX(0.910);-webkit-text-stroke:0.25px #8c90aa;">ALGO/USDT</span>
<span class="t" style="left:1274.17px;top:22.06px;font-size:12.8px;color:#585c76;transform:scaleX(1.009);">火币全球站</span>
<span class="t" style="left:1378.85px;top:6.78px;font-size:15.4px;color:#8c90aa;transform:scaleX(0.946);-webkit-text-stroke:0.25px #8c90aa;">QTUM/USDT</span>
<span class="t" style="left:1379.17px;top:22.06px;font-size:12.8px;color:#585c76;transform:scaleX(1.009);">火币全球站</span>
<span class="t" style="left:1483.78px;top:6.78px;font-size:15.4px;color:#8c90aa;transform:scaleX(0.922);-webkit-text-stroke:0.25px #8c90aa;">DOT/USDT</span>
<span class="t" style="left:1484.72px;top:22.35px;font-size:12.8px;color:#5f637c;transform:scaleX(0.911);">OKEx</span>
<span class="t" style="left:1588.75px;top:6.78px;font-size:15.4px;color:#8c90aa;transform:scaleX(0.941);-webkit-text-stroke:0.25px #8c90aa;">DASH/USDT</span>
<span class="t" style="left:1589.17px;top:22.06px;font-size:12.8px;color:#585c76;transform:scaleX(1.009);">火币全球站</span>
<span class="t" style="left:1694.06px;top:6.78px;font-size:15.4px;color:#8c90aa;transform:scaleX(0.940);-webkit-text-stroke:0.25px #8c90aa;">KNC/USDT</span>
<span class="t" style="left:1694.17px;top:22.06px;font-size:12.8px;color:#585c76;transform:scaleX(1.009);">火币全球站</span>
<span class="t" style="left:44.82px;top:50.75px;font-size:15px;color:#c6c9de;transform:scaleX(1.021);"><span style="font-size:15.0px;letter-spacing:0px;vertical-align:0px">指标</span></span>
<span class="t" style="left:109.77px;top:50.75px;font-size:15px;color:#c6c9de;transform:scaleX(1.026);"><span style="font-size:15.0px;letter-spacing:0px;vertical-align:0px">设置</span></span>
<span class="t" style="left:171.56px;top:50.75px;font-size:15px;color:#2e8cf0;transform:scaleX(1.034);"><span style="font-size:15.0px;letter-spacing:0px;vertical-align:0px">画线</span></span>
<span class="t" style="left:232.6px;top:50.75px;font-size:15px;color:#c6c9de;transform:scaleX(1.050);"><span style="font-size:15.0px;letter-spacing:0px;vertical-align:0px">周期</span></span>
<span class="t" style="left:290.77px;top:50.85px;font-size:15px;color:#c6c9de;transform:scaleX(1.011);"><span style="font-size:15.0px;letter-spacing:0.2px;vertical-align:0.4px">分时</span></span>
<span class="t" style="left:330.35px;top:50.85px;font-size:15px;color:#c6c9de;transform:scaleX(1.032);"><span style="font-size:15.4px;letter-spacing:-0.3px">1</span><span style="font-size:15.0px;letter-spacing:0.2px;vertical-align:0.4px">分钟</span></span>
<span class="t" style="left:378.9px;top:50.85px;font-size:15px;color:#c6c9de;transform:scaleX(1.031);"><span style="font-size:15.4px;letter-spacing:-0.3px">3</span><span style="font-size:15.0px;letter-spacing:0.2px;vertical-align:0.4px">分钟</span></span>
<span class="t" style="left:427.64px;top:50.85px;font-size:15px;color:#c6c9de;transform:scaleX(1.030);"><span style="font-size:15.4px;letter-spacing:-0.3px">5</span><span style="font-size:15.0px;letter-spacing:0.2px;vertical-align:0.4px">分钟</span></span>
<span class="t" style="left:475.75px;top:50.85px;font-size:15px;color:#c6c9de;transform:scaleX(1.036);"><span style="font-size:15.4px;letter-spacing:-0.3px">10</span><span style="font-size:15.0px;letter-spacing:0.2px;vertical-align:0.4px">分钟</span></span>
<span class="t" style="left:532.65px;top:50.85px;font-size:15px;color:#c6c9de;transform:scaleX(1.034);"><span style="font-size:15.4px;letter-spacing:-0.3px">15</span><span style="font-size:15.0px;letter-spacing:0.2px;vertical-align:0.4px">分钟</span></span>
<span class="t" style="left:589.19px;top:50.85px;font-size:15px;color:#c6c9de;transform:scaleX(1.042);"><span style="font-size:15.4px;letter-spacing:-0.3px">30</span><span style="font-size:15.0px;letter-spacing:0.2px;vertical-align:0.4px">分钟</span></span>
<span class="t" style="left:646.67px;top:50.85px;font-size:15px;color:#c6c9de;transform:scaleX(1.014);"><span style="font-size:15.4px;letter-spacing:-0.3px">1</span><span style="font-size:15.0px;letter-spacing:0.2px;vertical-align:0.4px">小时</span></span>
<span class="t" style="left:694.39px;top:50.85px;font-size:15px;color:#c6c9de;transform:scaleX(1.051);"><span style="font-size:15.4px;letter-spacing:-0.3px">2</span><span style="font-size:15.0px;letter-spacing:0.2px;vertical-align:0.4px">小时</span></span>
<span class="t" style="left:742.79px;top:50.85px;font-size:15px;color:#c6c9de;transform:scaleX(1.051);"><span style="font-size:15.4px;letter-spacing:-0.3px">3</span><span style="font-size:15.0px;letter-spacing:0.2px;vertical-align:0.4px">小时</span></span>
<span class="t" style="left:792.29px;top:50.85px;font-size:15px;color:#c6c9de;transform:scaleX(1.022);"><span style="font-size:15.4px;letter-spacing:-0.3px">4</span><span style="font-size:15.0px;letter-spacing:0.2px;vertical-align:0.4px">小时</span></span>
<span class="t" style="left:840.23px;top:50.85px;font-size:15px;color:#c6c9de;transform:scaleX(1.034);"><span style="font-size:15.4px;letter-spacing:-0.3px">6</span><span style="font-size:15.0px;letter-spacing:0.2px;vertical-align:0.4px">小时</span></span>
<span class="t" style="left:888.77px;top:50.85px;font-size:15px;color:#c6c9de;transform:scaleX(1.010);"><span style="font-size:15.4px;letter-spacing:-0.3px">12</span><span style="font-size:15.0px;letter-spacing:0.2px;vertical-align:0.4px">小时</span></span>
<span class="t" style="left:944.33px;top:50.85px;font-size:15px;color:#2e8cf0;transform:scaleX(1.151);"><span style="font-size:15.4px;letter-spacing:-0.3px">1</span><span style="font-size:15.0px;letter-spacing:0.2px;vertical-align:0.4px">日</span></span>
<span class="t" style="left:978.83px;top:50.85px;font-size:15px;color:#c6c9de;transform:scaleX(1.131);"><span style="font-size:15.4px;letter-spacing:-0.3px">2</span><span style="font-size:15.0px;letter-spacing:0.2px;vertical-align:0.4px">日</span></span>
<span class="t" style="left:1012.23px;top:50.85px;font-size:15px;color:#c6c9de;transform:scaleX(1.131);"><span style="font-size:15.4px;letter-spacing:-0.3px">3</span><span style="font-size:15.0px;letter-spacing:0.2px;vertical-align:0.4px">日</span></span>
<span class="t" style="left:1045.76px;top:50.85px;font-size:15px;color:#c6c9de;transform:scaleX(1.120);"><span style="font-size:15.4px;letter-spacing:-0.3px">5</span><span style="font-size:15.0px;letter-spacing:0.2px;vertical-align:0.4px">日</span></span>
<span class="t" style="left:1079.03px;top:50.85px;font-size:15px;color:#c6c9de;"><span style="font-size:15.0px;letter-spacing:0.2px;vertical-align:0.4px">周</span><span style="font-size:15.4px;letter-spacing:-0.3px">K</span></span>
<span class="t" style="left:1113px;top:50.85px;font-size:15px;color:#c6c9de;transform:scaleX(1.020);"><span style="font-size:15.0px;letter-spacing:0.2px;vertical-align:0.4px">月</span><span style="font-size:15.4px;letter-spacing:-0.3px">K</span></span>
<span class="t" style="left:1147.83px;top:50.85px;font-size:15px;color:#c6c9de;transform:scaleX(1.015);"><span style="font-size:15.0px;letter-spacing:0.2px;vertical-align:0.4px">季</span><span style="font-size:15.4px;letter-spacing:-0.3px">K</span></span>
<span class="t" style="left:1182.12px;top:50.85px;font-size:15px;color:#c6c9de;transform:scaleX(0.995);"><span style="font-size:15.0px;letter-spacing:0.2px;vertical-align:0.4px">年</span><span style="font-size:15.4px;letter-spacing:-0.3px">K</span></span>
<span class="t" style="left:1676.08px;top:50.85px;font-size:15.4px;color:#c6c9de;transform:scaleX(1.064);">2s</span>
<span class="t" style="left:1772.06px;top:52.32px;font-size:15px;color:#d4d7ea;transform:scaleX(1.043);"><span style="font-size:15.0px;letter-spacing:0px;vertical-align:0px">单窗口</span></span>
<span class="t" style="left:338.92px;top:89.86px;font-size:17.5px;color:#b0b4d0;transform:scaleX(0.928);">Aa</span>
<span class="t" style="left:12.54px;top:123.38px;font-size:15.4px;color:#d0d3e6;transform:scaleX(0.959);-webkit-text-stroke:0.15px #d0d3e6;"><span style="font-size:15.6px;letter-spacing:0px;vertical-align:0px">时间</span><span style="font-size:15.4px;letter-spacing:0px">:2020-08-27 08:00</span></span>
<span class="t" style="left:47.57px;top:145.78px;font-size:15.4px;color:#d4d6e6;transform:scaleX(1.017);">MA</span>
<span class="t" style="left:48.2px;top:609.68px;font-size:15.4px;color:#d4d6e6;transform:scaleX(0.912);">VOLUME</span>
<span class="t" style="left:47.44px;top:748.28px;font-size:15.4px;color:#d4d6e6;transform:scaleX(0.952);">MACD(12,26,9)</span>
<span class="t" style="left:1781.73px;top:155.9px;font-size:14.4px;color:#d4d6e2;transform:scaleX(0.969);">12346.36</span>
<span class="t" style="left:1781.72px;top:221.8px;font-size:14.4px;color:#ffffff;transform:scaleX(0.984);">11606.00</span>
<span class="t" style="left:1797.22px;top:703.1px;font-size:14.4px;color:#ffffff;transform:scaleX(0.974);">3.9k</span>
<span class="t" style="left:1328.03px;top:889.3px;font-size:14.4px;color:#d0d3e6;transform:scaleX(0.942);">2020-08-27 08:00:00</span>
<span class="t" style="left:1752.68px;top:888.58px;font-size:15px;color:#2e8cf0;transform:scaleX(1.028);"><span style="font-size:15.0px;letter-spacing:0px;vertical-align:0px">对数</span></span>
<span class="t" style="left:1795.64px;top:889.4px;font-size:14.4px;color:#a2a6c0;transform:scaleX(0.873);">%</span>
<span class="t" style="left:1818.43px;top:888.35px;font-size:15px;color:#2e8cf0;transform:scaleX(1.036);"><span style="font-size:15.0px;letter-spacing:0px;vertical-align:0px">自动</span></span>
<span class="t" style="left:19.63px;top:725.02px;font-size:12.4px;color:#a2a6c0;transform:scaleX(1.075);-webkit-text-stroke:0.18px #a2a6c0;">MA</span>
<span class="t" style="left:50.95px;top:725.02px;font-size:12.4px;color:#a2a6c0;transform:scaleX(1.048);-webkit-text-stroke:0.18px #a2a6c0;">EMA</span>
<span class="t" style="left:91.19px;top:725.02px;font-size:12.4px;color:#2e8cf0;transform:scaleX(1.016);-webkit-text-stroke:0.18px #2e8cf0;">VOLUME</span>
<span class="t" style="left:155.55px;top:725.02px;font-size:12.4px;color:#6a6e8a;transform:scaleX(1.050);-webkit-text-stroke:0.18px #6a6e8a;">MACD</span>
<span class="t" style="left:205.44px;top:725.02px;font-size:12.4px;color:#a2a6c0;transform:scaleX(1.058);-webkit-text-stroke:0.18px #a2a6c0;">DMI</span>
<span class="t" style="left:240.77px;top:725.02px;font-size:12.4px;color:#a2a6c0;transform:scaleX(1.034);-webkit-text-stroke:0.18px #a2a6c0;">DMA</span>
<span class="t" style="left:281.58px;top:725.02px;font-size:12.4px;color:#a2a6c0;transform:scaleX(1.008);-webkit-text-stroke:0.18px #a2a6c0;">TRIX</span>
<span class="t" style="left:321.75px;top:725.02px;font-size:12.4px;color:#a2a6c0;transform:scaleX(1.049);-webkit-text-stroke:0.18px #a2a6c0;">BRAR</span>
<span class="t" style="left:370.08px;top:725.02px;font-size:12.4px;color:#a2a6c0;transform:scaleX(1.020);-webkit-text-stroke:0.18px #a2a6c0;">VR</span>
<span class="t" style="left:399.48px;top:725.02px;font-size:12.4px;color:#a2a6c0;transform:scaleX(1.007);-webkit-text-stroke:0.18px #a2a6c0;">OBV</span>
<span class="t" style="left:437.74px;top:725.02px;font-size:12.4px;color:#a2a6c0;transform:scaleX(1.058);-webkit-text-stroke:0.18px #a2a6c0;">EMV</span>
<span class="t" style="left:477.42px;top:725.02px;font-size:12.4px;color:#a2a6c0;transform:scaleX(1.081);-webkit-text-stroke:0.18px #a2a6c0;">RSI</span>
<span class="t" style="left:511.7px;top:725.02px;font-size:12.4px;color:#a2a6c0;transform:scaleX(1.027);-webkit-text-stroke:0.18px #a2a6c0;">WR</span>
<span class="t" style="left:544.38px;top:725.02px;font-size:12.4px;color:#a2a6c0;transform:scaleX(1.054);-webkit-text-stroke:0.18px #a2a6c0;">SAR</span>
<span class="t" style="left:582.54px;top:725.02px;font-size:12.4px;color:#a2a6c0;transform:scaleX(1.056);-webkit-text-stroke:0.18px #a2a6c0;">KDJ</span>
<span class="t" style="left:618.87px;top:725.02px;font-size:12.4px;color:#a2a6c0;transform:scaleX(1.035);-webkit-text-stroke:0.18px #a2a6c0;">ROC</span>
<span class="t" style="left:658.74px;top:725.02px;font-size:12.4px;color:#a2a6c0;transform:scaleX(1.063);-webkit-text-stroke:0.18px #a2a6c0;">MTM</span>
<span class="t" style="left:699.98px;top:725.02px;font-size:12.4px;color:#a2a6c0;transform:scaleX(1.022);-webkit-text-stroke:0.18px #a2a6c0;">BOLL</span>
<span class="t" style="left:744.58px;top:725.02px;font-size:12.4px;color:#a2a6c0;transform:scaleX(1.024);-webkit-text-stroke:0.18px #a2a6c0;">PSY</span>
<span class="t" style="left:782px;top:725.02px;font-size:12.4px;color:#a2a6c0;transform:scaleX(1.025);-webkit-text-stroke:0.18px #a2a6c0;">StochRSI</span>
<span class="t" style="left:847.48px;top:725.02px;font-size:12.4px;color:#a2a6c0;transform:scaleX(1.056);-webkit-text-stroke:0.18px #a2a6c0;">SMI</span>
<span class="t" style="left:882.22px;top:725.02px;font-size:12.4px;color:#a2a6c0;transform:scaleX(1.047);-webkit-text-stroke:0.18px #a2a6c0;">CCI</span>
<span class="t" style="left:915.63px;top:725.02px;font-size:12.4px;color:#a2a6c0;transform:scaleX(1.071);-webkit-text-stroke:0.18px #a2a6c0;">MFI</span>
<span class="t" style="left:950.61px;top:725.02px;font-size:12.4px;color:#a2a6c0;transform:scaleX(1.023);-webkit-text-stroke:0.18px #a2a6c0;">ATR</span>
<span class="t" style="left:986.48px;top:725.02px;font-size:12.4px;color:#a2a6c0;transform:scaleX(1.018);-webkit-text-stroke:0.18px #a2a6c0;">BBW</span>
<span class="t" style="left:1027.39px;top:725.02px;font-size:12.4px;color:#a2a6c0;transform:scaleX(1.044);-webkit-text-stroke:0.18px #a2a6c0;">SKDJ</span>
<span class="t" style="left:1071.86px;top:725.02px;font-size:12.4px;color:#a2a6c0;transform:scaleX(1.040);-webkit-text-stroke:0.18px #a2a6c0;">BIAS</span>
<span class="t" style="left:1112.96px;top:725.02px;font-size:12.4px;color:#a2a6c0;transform:scaleX(1.044);-webkit-text-stroke:0.18px #a2a6c0;">DPO</span>
<span class="t" style="left:1153.21px;top:725.02px;font-size:12.4px;color:#a2a6c0;transform:scaleX(1.036);-webkit-text-stroke:0.18px #a2a6c0;">AO</span>
<span class="t" style="left:1183.17px;top:725.02px;font-size:12.4px;color:#a2a6c0;transform:scaleX(1.031);-webkit-text-stroke:0.18px #a2a6c0;">Position</span>
<span class="t" style="left:1239.97px;top:725.02px;font-size:12.4px;color:#a2a6c0;transform:scaleX(1.029);-webkit-text-stroke:0.18px #a2a6c0;">Fundflow</span>
<span class="t" style="left:1304.32px;top:725.02px;font-size:12.4px;color:#a2a6c0;-webkit-text-stroke:0.18px #a2a6c0;">AI-NetVOL</span>
<span class="t" style="left:1376.26px;top:725.02px;font-size:12.4px;color:#a2a6c0;transform:scaleX(1.040);-webkit-text-stroke:0.18px #a2a6c0;">LSUR</span>
<span class="t" style="left:1422.28px;top:725.02px;font-size:12.4px;color:#a2a6c0;transform:scaleX(1.023);-webkit-text-stroke:0.18px #a2a6c0;">BASIS</span>
<span class="t" style="left:1472.18px;top:725.02px;font-size:12.4px;color:#a2a6c0;transform:scaleX(1.012);-webkit-text-stroke:0.18px #a2a6c0;">TVolume</span>
<span class="t" style="left:1533.16px;top:725.02px;font-size:12.4px;color:#a2a6c0;transform:scaleX(1.044);-webkit-text-stroke:0.18px #a2a6c0;">FTBS</span>
<span class="t" style="left:1578.27px;top:725.02px;font-size:12.4px;color:#a2a6c0;transform:scaleX(1.026);-webkit-text-stroke:0.18px #a2a6c0;">TTSI</span>
<span class="t" style="left:1617.98px;top:725.02px;font-size:12.4px;color:#a2a6c0;transform:scaleX(1.011);-webkit-text-stroke:0.18px #a2a6c0;">TTMU</span>
<span class="t" style="left:1665.11px;top:725.02px;font-size:12.4px;color:#a2a6c0;transform:scaleX(1.032);-webkit-text-stroke:0.18px #a2a6c0;">AI-BSI</span>
<span class="t" style="left:1713.04px;top:725.02px;font-size:12.4px;color:#a2a6c0;transform:scaleX(1.058);-webkit-text-stroke:0.18px #a2a6c0;">MLR</span>
<span class="t" style="left:20.2px;top:864.2px;font-size:14.4px;color:#a2a6c0;transform:scaleX(1.070);-webkit-text-stroke:0.18px #a2a6c0;">MA</span>
<span class="t" style="left:55.55px;top:864.2px;font-size:14.4px;color:#a2a6c0;transform:scaleX(1.021);-webkit-text-stroke:0.18px #a2a6c0;">EMA</span>
<span class="t" style="left:100.29px;top:864.2px;font-size:14.4px;color:#6a6e8a;transform:scaleX(0.973);-webkit-text-stroke:0.18px #6a6e8a;">VOLUME</span>
<span class="t" style="left:170.96px;top:864.2px;font-size:14.4px;color:#2e8cf0;transform:scaleX(1.013);-webkit-text-stroke:0.18px #2e8cf0;">MACD</span>
<span class="t" style="left:225.7px;top:864.2px;font-size:14.4px;color:#a2a6c0;transform:scaleX(1.065);-webkit-text-stroke:0.18px #a2a6c0;">DMI</span>
<span class="t" style="left:265.56px;top:864.2px;font-size:14.4px;color:#a2a6c0;transform:scaleX(1.014);-webkit-text-stroke:0.18px #a2a6c0;">DMA</span>
<span class="t" style="left:311.53px;top:864.2px;font-size:14.4px;color:#a2a6c0;transform:scaleX(0.962);-webkit-text-stroke:0.18px #a2a6c0;">TRIX</span>
<span class="t" style="left:355.41px;top:864.2px;font-size:14.4px;color:#a2a6c0;transform:scaleX(0.964);-webkit-text-stroke:0.18px #a2a6c0;">BRAR</span>
<span class="t" style="left:406.5px;top:864.2px;font-size:14.4px;color:#a2a6c0;transform:scaleX(0.937);-webkit-text-stroke:0.18px #a2a6c0;">VR</span>
<span class="t" style="left:436.6px;top:864.2px;font-size:14.4px;color:#a2a6c0;transform:scaleX(0.965);-webkit-text-stroke:0.18px #a2a6c0;">OBV</span>
<span class="t" style="left:478.28px;top:864.2px;font-size:14.4px;color:#a2a6c0;transform:scaleX(0.991);-webkit-text-stroke:0.18px #a2a6c0;">EMV</span>
<span class="t" style="left:521.49px;top:864.2px;font-size:14.4px;color:#a2a6c0;transform:scaleX(0.982);-webkit-text-stroke:0.18px #a2a6c0;">RSI</span>
<span class="t" style="left:556.95px;top:864.2px;font-size:14.4px;color:#a2a6c0;transform:scaleX(0.967);-webkit-text-stroke:0.18px #a2a6c0;">WR</span>
<span class="t" style="left:591.48px;top:864.2px;font-size:14.4px;color:#a2a6c0;transform:scaleX(0.973);-webkit-text-stroke:0.18px #a2a6c0;">SAR</span>
<span class="t" style="left:631.62px;top:864.2px;font-size:14.4px;color:#a2a6c0;transform:scaleX(1.053);-webkit-text-stroke:0.18px #a2a6c0;">KDJ</span>
<span class="t" style="left:671.82px;top:864.2px;font-size:14.4px;color:#a2a6c0;transform:scaleX(0.952);-webkit-text-stroke:0.18px #a2a6c0;">ROC</span>
<span class="t" style="left:713.77px;top:864.2px;font-size:14.4px;color:#a2a6c0;transform:scaleX(1.095);-webkit-text-stroke:0.18px #a2a6c0;">MTM</span>
<span class="t" style="left:761.39px;top:864.2px;font-size:14.4px;color:#a2a6c0;transform:scaleX(0.976);-webkit-text-stroke:0.18px #a2a6c0;">BOLL</span>
<span class="t" style="left:809.5px;top:864.2px;font-size:14.4px;color:#a2a6c0;transform:scaleX(0.975);-webkit-text-stroke:0.18px #a2a6c0;">PSY</span>
<span class="t" style="left:849.44px;top:864.2px;font-size:14.4px;color:#a2a6c0;transform:scaleX(1.017);-webkit-text-stroke:0.18px #a2a6c0;">StochRSI</span>
<span class="t" style="left:922.09px;top:864.2px;font-size:14.4px;color:#a2a6c0;transform:scaleX(1.076);-webkit-text-stroke:0.18px #a2a6c0;">SMI</span>
<span class="t" style="left:961.02px;top:864.2px;font-size:14.4px;color:#a2a6c0;-webkit-text-stroke:0.18px #a2a6c0;">CCI</span>
<span class="t" style="left:997.09px;top:864.2px;font-size:14.4px;color:#a2a6c0;transform:scaleX(1.074);-webkit-text-stroke:0.18px #a2a6c0;">MFI</span>
<span class="t" style="left:1035.92px;top:864.2px;font-size:14.4px;color:#a2a6c0;transform:scaleX(0.996);-webkit-text-stroke:0.18px #a2a6c0;">ATR</span>
<span class="t" style="left:1074.59px;top:864.2px;font-size:14.4px;color:#a2a6c0;transform:scaleX(0.983);-webkit-text-stroke:0.18px #a2a6c0;">BBW</span>
<span class="t" style="left:1118.93px;top:864.2px;font-size:14.4px;color:#a2a6c0;transform:scaleX(1.028);-webkit-text-stroke:0.18px #a2a6c0;">SKDJ</span>
<span class="t" style="left:1167.75px;top:864.2px;font-size:14.4px;color:#a2a6c0;transform:scaleX(1.021);-webkit-text-stroke:0.18px #a2a6c0;">BIAS</span>
<span class="t" style="left:1212.81px;top:864.2px;font-size:14.4px;color:#a2a6c0;transform:scaleX(0.964);-webkit-text-stroke:0.18px #a2a6c0;">DPO</span>
<span class="t" style="left:1255.82px;top:864.2px;font-size:14.4px;color:#a2a6c0;transform:scaleX(0.954);-webkit-text-stroke:0.18px #a2a6c0;">AO</span>
<span class="t" style="left:1287.38px;top:864.2px;font-size:14.4px;color:#a2a6c0;transform:scaleX(1.087);-webkit-text-stroke:0.18px #a2a6c0;">Position</span>
<span class="t" style="left:1354.21px;top:864.2px;font-size:14.4px;color:#a2a6c0;transform:scaleX(1.059);-webkit-text-stroke:0.18px #a2a6c0;">Fundflow</span>
<span class="t" style="left:1429.42px;top:864.2px;font-size:14.4px;color:#a2a6c0;transform:scaleX(0.993);-webkit-text-stroke:0.18px #a2a6c0;">AI-NetVOL</span>
<span class="t" style="left:1510.5px;top:864.2px;font-size:14.4px;color:#a2a6c0;transform:scaleX(0.967);-webkit-text-stroke:0.18px #a2a6c0;">LSUR</span>
<span class="t" style="left:1558.88px;top:864.2px;font-size:14.4px;color:#a2a6c0;transform:scaleX(0.992);-webkit-text-stroke:0.18px #a2a6c0;">BASIS</span>
<span class="t" style="left:1613.12px;top:864.2px;font-size:14.4px;color:#a2a6c0;transform:scaleX(1.059);-webkit-text-stroke:0.18px #a2a6c0;">TVolume</span>
<span class="t" style="left:1684.38px;top:864.2px;font-size:14.4px;color:#a2a6c0;transform:scaleX(0.993);-webkit-text-stroke:0.18px #a2a6c0;">FTBS</span></div>
<svg width="1857" height="907" viewBox="0 0 1857 907">
<ellipse cx="1310.9" cy="226.5" rx="31.6" ry="35.8" fill="none" stroke="#ff2312" stroke-width="4.1"/>
<ellipse cx="1303.6" cy="684.9" rx="37.7" ry="41.1" fill="none" stroke="#ff2312" stroke-width="4.1"/>
<ellipse cx="1296.15" cy="793.55" rx="22.15" ry="23.55" fill="none" stroke="#ff2312" stroke-width="4.0"/>
</svg>
</div>
</body></html>
